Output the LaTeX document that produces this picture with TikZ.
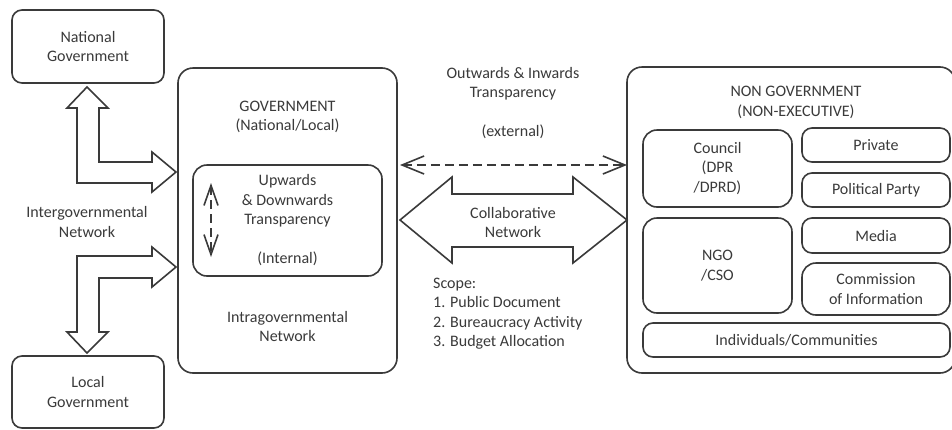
\documentclass[tikz,border=0pt]{standalone}
\usepackage{fontspec}
\setmainfont{Carlito}
\usetikzlibrary{positioning,arrows.meta}

\definecolor{inkgray}{HTML}{3A3A3A}

\tikzset{
  box/.style={draw=inkgray,line width=1.6pt,rounded corners=10pt,align=center,text=inkgray,inner sep=0pt},
  lbl/.style={align=center,text=inkgray,inner sep=0pt},
  blockarrow/.style={draw=inkgray,line width=1.6pt,line join=miter},
  dasharrow/.style={draw=inkgray,line width=1.6pt,dash pattern=on 9pt off 5pt,<->}
}

\begin{document}
\begin{tikzpicture}[x=1pt,y=-1pt,font=\fontsize{16}{19.5}\selectfont]
    \useasboundingbox[fill=white] (0,0) rectangle (952,429);

    \node[box,minimum width=152pt,minimum height=73pt] (natgov) at (88,46.5) {National\\Government};
    \node[box,minimum width=152pt,minimum height=72pt] (locgov) at (88,392) {Local\\Government};
    \node[lbl] (intergov) at (87,222) {Intergovernmental\\Network};

    \node[box,rounded corners=15pt,minimum width=219pt,minimum height=305pt] (gov) at (287.5,220.5) {};
    \node[lbl] (govtitle) at (287.5,117) {GOVERNMENT\\(National/Local)};
    \node[box,rounded corners=14pt,minimum width=189pt,minimum height=111pt] (internal) at (287.5,220.5)
        {Upwards\\\& Downwards\\Transparency\\[19.5pt](Internal)};
    \node[lbl] (intragov) at (287.5,326.5) {Intragovernmental\\Network};

    \node[lbl] (external) at (513,103) {Outwards \& Inwards\\Transparency\\[19.5pt](external)};
    \node[lbl] (collab) at (513,222.5) {Collaborative\\Network};
    \node[lbl,align=left,anchor=west] (scope) at (433,313.5)
        {Scope:\\1. Public Document\\2. Bureaucracy Activity\\3. Budget Allocation};

    \node[box,rounded corners=15pt,minimum width=328pt,minimum height=306pt] (nongov) at (791,220) {};
    \node[lbl] (nongovtitle) at (796,102.5) {NON GOVERNMENT\\(NON-EXECUTIVE)};
    \node[box,rounded corners=14pt,minimum width=149pt,minimum height=77pt] (council) at (717.5,168.5) {Council\\(DPR\\/DPRD)};
    \node[box,minimum width=148pt,minimum height=34pt] (private) at (876,145) {Private};
    \node[box,minimum width=148pt,minimum height=34pt] (party) at (876,190) {Political Party};
    \node[box,rounded corners=14pt,minimum width=149pt,minimum height=95pt] (ngo) at (717.5,265.5) {NGO\\/CSO};
    \node[box,minimum width=148pt,minimum height=35pt] (media) at (876,235.5) {Media};
    \node[box,rounded corners=14pt,minimum width=148pt,minimum height=52pt] (commission) at (876,289) {Commission\\of Information};
    \node[box,minimum width=307pt,minimum height=34pt] (indiv) at (796.5,340) {Individuals/Communities};

    \draw[blockarrow] (87,87) -- (108,108) -- (99,108) -- (99,162) -- (152,162) -- (152,152) -- (176,172)
        -- (152,192) -- (152,183) -- (77,183) -- (77,108) -- (67,108) -- cycle;
    \draw[blockarrow] (77,256) -- (152,256) -- (152,247) -- (176,267) -- (152,287) -- (152,278) -- (99,278)
        -- (99,332) -- (108,332) -- (87,353) -- (67,332) -- (77,332) -- cycle;
    \draw[blockarrow] (400,220) -- (452,177) -- (452,194) -- (573,194) -- (573,177) -- (627,220)
        -- (573,263) -- (573,247) -- (452,247) -- (452,263) -- cycle;

    \coordinate (extL) at (400,165);
    \coordinate (extR) at (627,165);
    \draw[dasharrow,>={Straight Barb[length=22pt,width=18pt,line width=1.6pt]}] (extL) -- (extR);
    \coordinate (intT) at (211,183);
    \coordinate (intB) at (211,257);
    \draw[dasharrow,>={Straight Barb[length=20pt,width=14pt,line width=1.6pt]}] (intT) -- (intB);
\end{tikzpicture}
\end{document}
